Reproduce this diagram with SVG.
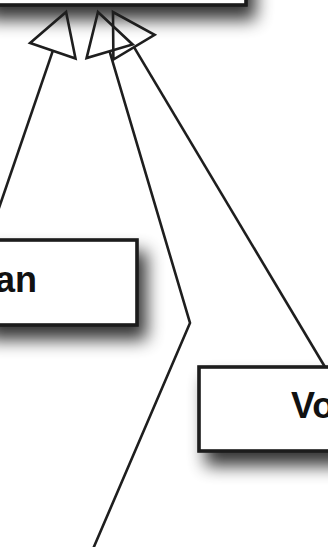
<svg xmlns="http://www.w3.org/2000/svg" width="328" height="547" viewBox="0 0 328 547">
  <style>
    .box { fill: #ffffff; stroke: #1a1a1a; stroke-width: 3.6; filter: url(#shadow); }
    .label { font-family: "Liberation Sans", Arial, sans-serif; font-weight: bold; font-size: 36px; fill: #111111; }
    .edge { fill: none; stroke: #1e1e1e; stroke-width: 2.6; stroke-linejoin: miter; marker-end: url(#inherit); }
  </style>
  <defs>
    <filter id="shadow" x="-30%" y="-40%" width="170%" height="200%">
      <feGaussianBlur in="SourceAlpha" stdDeviation="8.5"/>
      <feOffset dx="8" dy="13" result="blur"/>
      <feComponentTransfer>
        <feFuncA type="linear" slope="0.8"/>
      </feComponentTransfer>
      <feMerge>
        <feMergeNode/>
        <feMergeNode in="SourceGraphic"/>
      </feMerge>
    </filter>
    <!-- hollow generalization arrowhead, base centred on the path end -->
    <marker id="inherit" markerUnits="userSpaceOnUse" markerWidth="60" markerHeight="60" viewBox="-4 -30 50 60" refX="0" refY="0" orient="auto" overflow="visible">
      <path d="M0,-24 L41,0 L0,24 Z" fill="none" stroke="#1e1e1e" stroke-width="2.6" stroke-linejoin="miter"/>
    </marker>
  </defs>

  <rect width="328" height="547" fill="#ffffff"/>

  <!-- superclass -->
  <g id="node-parent">
    <rect class="box" x="-20" y="-60" width="266" height="65"/>
  </g>

  <!-- subclass, left -->
  <g id="node-an">
    <rect class="box" x="-20" y="240" width="157" height="85"/>
    <text class="label" x="37" y="292" text-anchor="end">an</text>
  </g>

  <!-- subclass, right -->
  <g id="node-vo">
    <rect class="box" x="199" y="367" width="150" height="84"/>
    <text class="label" x="291" y="418">Vo</text>
  </g>

  <!-- generalization connectors -->
  <g id="connectors">
    <path class="edge" d="M-12,240 L52.8,50.8"/>
    <path class="edge" d="M90,556 L190,323 L109.6,51.3"/>
    <path class="edge" d="M325,367 L134,47.2"/>
  </g>
</svg>
